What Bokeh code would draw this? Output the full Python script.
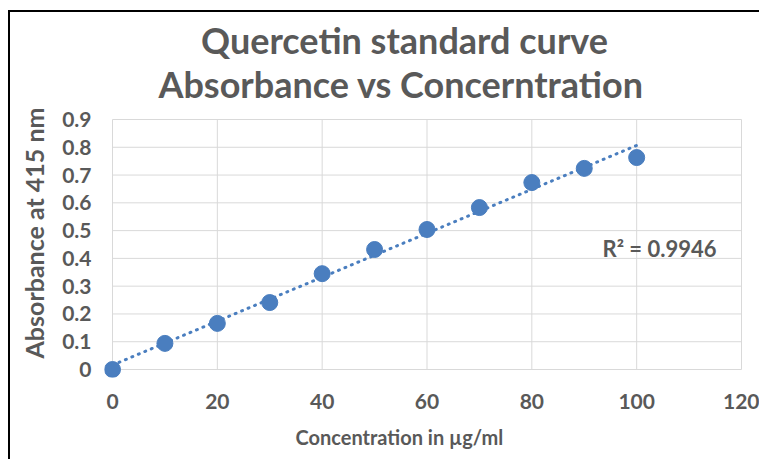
import numpy as np
from bokeh.plotting import figure
from bokeh.models import FixedTicker, Label, Range1d, Title
from bokeh.embed import file_html
from bokeh.resources import INLINE

# ---- data ----
concentration = [0, 10, 20, 30, 40, 50, 60, 70, 80, 90, 100]
absorbance = [0.0, 0.094, 0.166, 0.241, 0.345, 0.432, 0.504, 0.583, 0.673, 0.724, 0.763]
x_ticks = [0, 20, 40, 60, 80, 100, 120]
y_ticks = [0, 0.1, 0.2, 0.3, 0.4, 0.5, 0.6, 0.7, 0.8, 0.9]
y_tick_labels = ["0", "0.1", "0.2", "0.3", "0.4", "0.5", "0.6", "0.7", "0.8", "0.9"]
title_lines = ["Quercetin standard curve", "Absorbance  vs Concerntration"]
x_title = "Concentration in µg/ml"
y_title = "Absorbance at 415 nm"
r2_text = "R² = 0.9946"

FONT = "Lato"
GREY = "#595959"
BLUE = "#4a7ebf"
GRID = "#d9d9d9"

# ---- geometry (pixels) ----
W, H = 751, 449
PLOT_W, PLOT_H = 629, 250      # size of the gridded plot area
PAD = 8                        # room so edge markers are not clipped
TOP_ROOM = 107                 # frame extends above the plot area to hold the title
x0, x1 = x_ticks[0], x_ticks[-1]
y0, y1 = y_ticks[0], y_ticks[-1]
xpad = (x1 - x0) / PLOT_W * PAD
ypad = (y1 - y0) / PLOT_H * PAD
ytop = (y1 - y0) / PLOT_H * TOP_ROOM

p = figure(width=W, height=H, output_backend="svg", toolbar_location=None,
           x_range=Range1d(x0 - xpad, x1 + xpad), y_range=Range1d(y0 - ypad, y1 + ytop),
           min_border_left=94, min_border_right=12, min_border_top=0, min_border_bottom=84)
p.styles = {"border-left": "2px solid black", "border-top": "2px solid black",
            "border-right": "none", "border-bottom": "none",
            "margin-left": "8px", "margin-top": "10px"}
p.background_fill_color = "white"
p.border_fill_color = "white"
p.outline_line_color = None
p.xgrid.visible = False
p.ygrid.visible = False

for ax in (p.xaxis[0], p.yaxis[0]):
    ax.major_tick_line_color = None
    ax.minor_tick_line_color = None
    ax.major_tick_out = 0
    ax.major_tick_in = 0
    ax.axis_line_color = None
    ax.major_label_text_font = FONT
    ax.major_label_text_font_style = "bold"
    ax.major_label_text_font_size = "21px"
    ax.major_label_text_color = GREY

p.xaxis[0].ticker = FixedTicker(ticks=x_ticks)
p.yaxis[0].ticker = FixedTicker(ticks=y_ticks)
p.yaxis[0].major_label_overrides = {v: l for v, l in zip(y_ticks, y_tick_labels)}
p.yaxis[0].major_label_standoff = 13
p.xaxis[0].major_label_standoff = 16

# gridlines / plot-area border drawn from the tick arrays
p.segment(x0=x_ticks, y0=[y0] * len(x_ticks), x1=x_ticks, y1=[y1] * len(x_ticks),
          line_color=GRID, line_width=1)
p.segment(x0=[x0] * len(y_ticks), y0=y_ticks, x1=[x1] * len(y_ticks), y1=y_ticks,
          line_color=GRID, line_width=1)

# trendline (linear fit)
slope, intercept = np.polyfit(concentration, absorbance, 1)
tx = [min(concentration), max(concentration)]
ty = [slope * t + intercept for t in tx]
p.line(tx, ty, line_color=BLUE, line_width=3, line_dash="1 6", line_cap="round")

p.scatter(concentration, absorbance, size=16, fill_color=BLUE, line_color=BLUE)

# chart title (inside the extended frame; screen units from frame bottom-left)
p.add_layout(Label(x=300, y=338, x_units="screen", y_units="screen", text=title_lines[0],
                   text_align="center", text_baseline="alphabetic", text_font=FONT,
                   text_font_style="bold", text_font_size="36px", text_color=GREY))
p.add_layout(Label(x=301, y=294, x_units="screen", y_units="screen", text=title_lines[1],
                   text_align="center", text_baseline="alphabetic", text_font=FONT,
                   text_font_style="bold", text_font_size="36px", text_color=GREY))
# axis titles
p.add_layout(Title(text=x_title, align="left", offset=191, text_font=FONT,
                   text_font_style="bold", text_font_size="20px", text_color=GREY,
                   standoff=22), "below")
p.add_layout(Title(text=y_title, align="left", offset=19, vertical_align="top", text_font=FONT,
                   text_font_style="bold", text_font_size="25px", text_color=GREY,
                   standoff=17), "left")
p.add_layout(Label(x=555, y=129, x_units="screen", y_units="screen", text=r2_text,
                   text_align="center", text_baseline="middle", text_font=FONT,
                   text_font_style="bold", text_font_size="22px", text_color=GREY))

open("out.html", "w").write(file_html(p, INLINE))
